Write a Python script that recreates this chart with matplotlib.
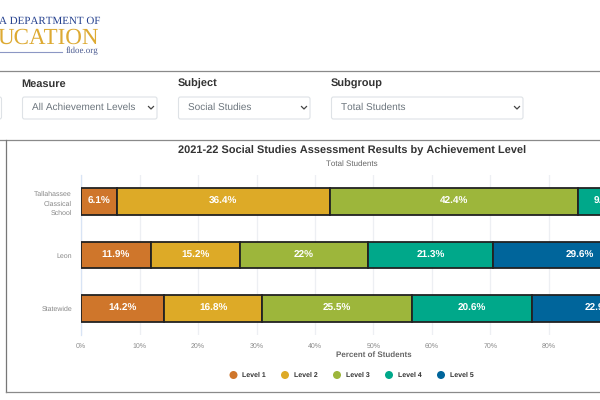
import matplotlib
matplotlib.use("Agg")
import matplotlib.pyplot as plt
from matplotlib.patches import FancyBboxPatch, Circle

plt.rcParams['font.family'] = ['Liberation Sans', 'DejaVu Sans']
plt.rcParams['text.hinting'] = 'none'
plt.rcParams['text.hinting_factor'] = 1

categories = ["Tallahassee\nClassical\nSchool", "Leon", "Statewide"]
levels = ["Level 1", "Level 2", "Level 3", "Level 4", "Level 5"]
level_1 = [6.1, 11.9, 14.2]
level_2 = [36.4, 15.2, 16.8]
level_3 = [42.4, 22, 25.5]
level_4 = [9.4, 21.3, 20.6]
level_5 = [5.7, 29.6, 22.9]
series = [level_1, level_2, level_3, level_4, level_5]
colors = ["#CF762B", "#DDAA27", "#9DB63B", "#00A88A", "#00659B"]
xticks = list(range(0, 101, 10))

W, H = 600, 400
fig = plt.figure(figsize=(6, 4), dpi=100, facecolor="white")

# page overlay in pixel coordinates
bg = fig.add_axes([0, 0, 1, 1], zorder=0)
bg.set_xlim(0, W); bg.set_ylim(H, 0); bg.axis("off")

navy = "#24408E"
bg.text(100, 21, "A DEPARTMENT OF", family="Liberation Serif", fontsize=8.0, color=navy,
        ha="right", va="center")
bg.text(99.5, 38, "UCATION", family="Liberation Serif", fontsize=16.3, color="#DDAA33",
        ha="right", va="center")
bg.plot([0, 62], [51.5, 51.5], color="#8C97C4", lw=0.8)
bg.text(98, 50.5, "fldoe.org", family="Liberation Serif", fontsize=6.8, color="#4A5A90",
        ha="right", va="center")

bg.plot([0, W], [71, 71], color="#8a8a8a", lw=0.9)
bg.plot([0, W], [139.5, 139.5], color="#8a8a8a", lw=0.9)
bg.plot([5.5, 5.5], [139.5, 391.5], color="#777777", lw=0.9)
bg.plot([5.5, W], [391.5, 391.5], color="#8a8a8a", lw=0.9)

for x0, x1, lab, val in [(-20, 2.5, None, None),
                         (21.5, 158, "Measure", "All Achievement Levels"),
                         (177.5, 311, "Subject", "Social Studies"),
                         (330.5, 524, "Subgroup", "Total Students")]:
    bg.add_patch(FancyBboxPatch((x0 + 1, 97), x1 - x0 - 2, 22, boxstyle="round,pad=0,rounding_size=2",
                                fc="white", ec="#DEE2E6", lw=0.8))
    if lab:
        bg.text(x0, 84, lab, fontsize=7.8, fontweight="bold", color="#333333", va="center")
        bg.text(x0 + 10.5, 107.5, val, fontsize=7.5, color="#6C757D", va="center")
        bg.plot([x1 - 9.5, x1 - 7, x1 - 4.5], [106.5, 109, 106.5], color="#444444", lw=0.9)

bg.text(352, 151, "2021-22 Social Studies Assessment Results by Achievement Level",
        fontsize=8.1, fontweight="bold", color="#333333", ha="center", va="center")
bg.text(352, 164, "Total Students", fontsize=5.5, color="#666666", ha="center", va="center")
bg.text(373.5, 355, "Percent of Students", fontsize=5.5, fontweight="bold", color="#666666",
        ha="center", va="center")

# legend
for cx, lab, c in zip([233.5, 285, 337, 389, 441], levels, colors):
    bg.add_patch(Circle((cx, 375), 4, fc=c, ec="none"))
    bg.text(cx + 8.5, 375, lab, fontsize=5.4, fontweight="bold", color="#333333", va="center")

# chart
ax = fig.add_axes([81 / W, (H - 335) / H, 585 / W, 160 / H], zorder=1)
ax.patch.set_alpha(0)
ypos = list(range(len(categories)))
left = [0.0] * len(categories)
for vals, c in zip(series, colors):
    ax.barh(ypos, vals, left=left, height=0.5, color=c, edgecolor="#222222", linewidth=1.3, zorder=3)
    for y, v, l in zip(ypos, vals, left):
        ax.text(l + v / 2, y, f"{v:g}%", color="white", fontsize=6.9, fontweight="bold",
                ha="center", va="center", zorder=4)
    left = [a + b for a, b in zip(left, vals)]

ax.set_xlim(0, 100)
ax.set_ylim(2.5, -0.5)
ax.set_xticks(xticks)
ax.set_xticklabels([f"{t}%" for t in xticks])
ax.set_yticks(ypos)
ax.set_yticklabels(categories, linespacing=1.5)
ax.tick_params(axis="x", length=0, labelsize=5.3, labelcolor="#888888", pad=6)
ax.tick_params(axis="y", length=0, labelsize=5.1, labelcolor="#888888", pad=6.5)
ax.grid(axis="x", color="#EDEFF3", lw=0.9, zorder=0)
ax.set_axisbelow(True)
for s in ax.spines.values():
    s.set_visible(False)
ax.spines["left"].set_visible(True)
ax.spines["left"].set_color("#D8E4F5")
ax.spines["left"].set_linewidth(0.9)

fig.savefig("out.png", dpi=100)
